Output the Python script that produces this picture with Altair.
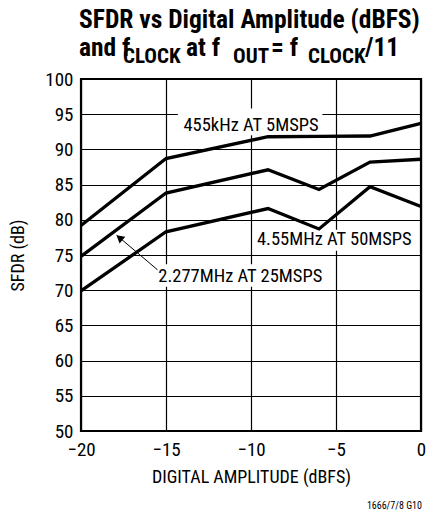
import altair as alt
import pandas as pd

# ---- data ----
amplitude = [-20, -15, -9, -6, -3, 0]
sfdr_455k = [79.2, 88.7, 91.8, 91.85, 91.9, 93.7]
sfdr_2277k = [74.8, 83.8, 87.1, 84.3, 88.2, 88.6]
sfdr_4550k = [69.9, 78.3, 81.6, 78.7, 84.7, 81.9]
series_names = ["455kHz AT 5MSPS", "2.277MHz AT 25MSPS", "4.55MHz AT 50MSPS"]

x_ticks = [-20, -15, -10, -5, 0]
y_ticks = [50, 55, 60, 65, 70, 75, 80, 85, 90, 95, 100]

# label anchors (data units)
lab_text = ["455kHz AT 5MSPS", "4.55MHz AT 50MSPS", "2.277MHz AT 25MSPS"]
lab_x = [-10.0, -5.1, -10.63]
lab_y = [92.6, 76.4, 71.2]
box_x1 = [-14.3, -9.9, -15.7]
box_x2 = [-5.8, -0.3, -5.5]
box_y1 = [92.0, 75.6, 70.5]
box_y2 = [95.8, 78.6, 73.7]

arrow_x = [-15.5, -17.9]
arrow_y = [72.9, 77.8]

FONT = "Roboto Condensed"

rows = []
for name, vals in zip(series_names, [sfdr_455k, sfdr_2277k, sfdr_4550k]):
    for a, v in zip(amplitude, vals):
        rows.append({"series": name, "amp": a, "sfdr": v})
df = pd.DataFrame(rows)

labels = pd.DataFrame({"text": lab_text, "x": lab_x, "y": lab_y,
                       "x1": box_x1, "x2": box_x2, "y1": box_y1, "y2": box_y2})
arrow = pd.DataFrame({"x": arrow_x, "y": arrow_y, "o": [0, 1]})
tip = pd.DataFrame({"x": [arrow_x[1] + 0.22], "y": [arrow_y[1] - 0.45]})

xs = alt.Scale(domain=[-20, 0], nice=False)
ys = alt.Scale(domain=[50, 100], nice=False)

common = dict(grid=True, ticks=False, domain=False, labelFlush=False,
              labelFontSize=19, titleFontSize=18, labelFont=FONT, titleFont=FONT,
              titleFontWeight="normal", labelColor="black", titleColor="black",
              gridColor="black", gridOpacity=1, gridWidth=1.2, labelOverlap=False)
xaxis = alt.Axis(values=x_ticks, title="DIGITAL AMPLITUDE (dBFS)",
                 labelPadding=9, titlePadding=9, **common)
yaxis = alt.Axis(values=y_ticks, title="SFDR (dB)",
                 labelPadding=8, titlePadding=17, **common)


def X(f):
    return alt.X(f, scale=xs, axis=xaxis, title="DIGITAL AMPLITUDE (dBFS)")


def Y(f):
    return alt.Y(f, scale=ys, axis=yaxis, title="SFDR (dB)")


lines = alt.Chart(df).mark_line(color="black", strokeWidth=3.3).encode(
    x=X("amp:Q"), y=Y("sfdr:Q"), detail="series:N")

boxes = alt.Chart(labels).mark_rect(color="white").encode(
    x=X("x1:Q"), x2="x2:Q", y=Y("y1:Q"), y2="y2:Q")

texts = alt.Chart(labels).mark_text(font=FONT, fontSize=18.5, color="black",
                                    align="center", baseline="alphabetic").encode(
    x=X("x:Q"), y=Y("y:Q"), text="text:N")

arrow_line = alt.Chart(arrow).mark_line(color="black", strokeWidth=1).encode(
    x=X("x:Q"), y=Y("y:Q"), order="o:Q")

arrow_head = alt.Chart(tip).mark_point(shape="triangle", filled=True, color="black",
                                       size=80, angle=310, opacity=1).encode(
    x=X("x:Q"), y=Y("y:Q"))

# title pieces (pixel positions relative to plot origin)
title_parts = pd.DataFrame({
    "t": ["SFDR vs Digital Amplitude (dBFS)", "and f", "CLOCK", "at f", "OUT", "= f", "CLOCK", "/11"],
    "px": [-2, -2, 42, 105, 152, 190, 227, 284],
    "py": [-51, -23, -16, -23, -16, -23, -16, -23],
    "fs": [25.5, 25.5, 21, 25.5, 21, 25.5, 21, 25.5],
})
title_layers = []
for _, r in title_parts.iterrows():
    title_layers.append(
        alt.Chart(pd.DataFrame({"t": [r["t"]]})).mark_text(
            font=FONT, fontSize=float(r["fs"]), fontWeight="bold", color="black",
            align="left", baseline="alphabetic").encode(
            x=alt.value(float(r["px"])), y=alt.value(float(r["py"])), text="t:N")
    )

foot = alt.Chart(pd.DataFrame({"t": ["1666/7/8 G10"]})).mark_text(
    font=FONT, fontSize=10, color="black", align="right", baseline="alphabetic").encode(
    x=alt.value(341), y=alt.value(430), text="t:N")

chart = alt.layer(boxes, texts, arrow_line, arrow_head, lines,
                  *title_layers, foot).properties(
    width=340, height=352,
    background="white",
    autosize=alt.AutoSizeParams(type="none"),
    padding={"left": 73, "top": 71, "right": 6, "bottom": 80},
).configure_view(stroke="black", strokeWidth=2.2)

chart.save("out.html", embed_options={"renderer": "svg", "actions": False})
